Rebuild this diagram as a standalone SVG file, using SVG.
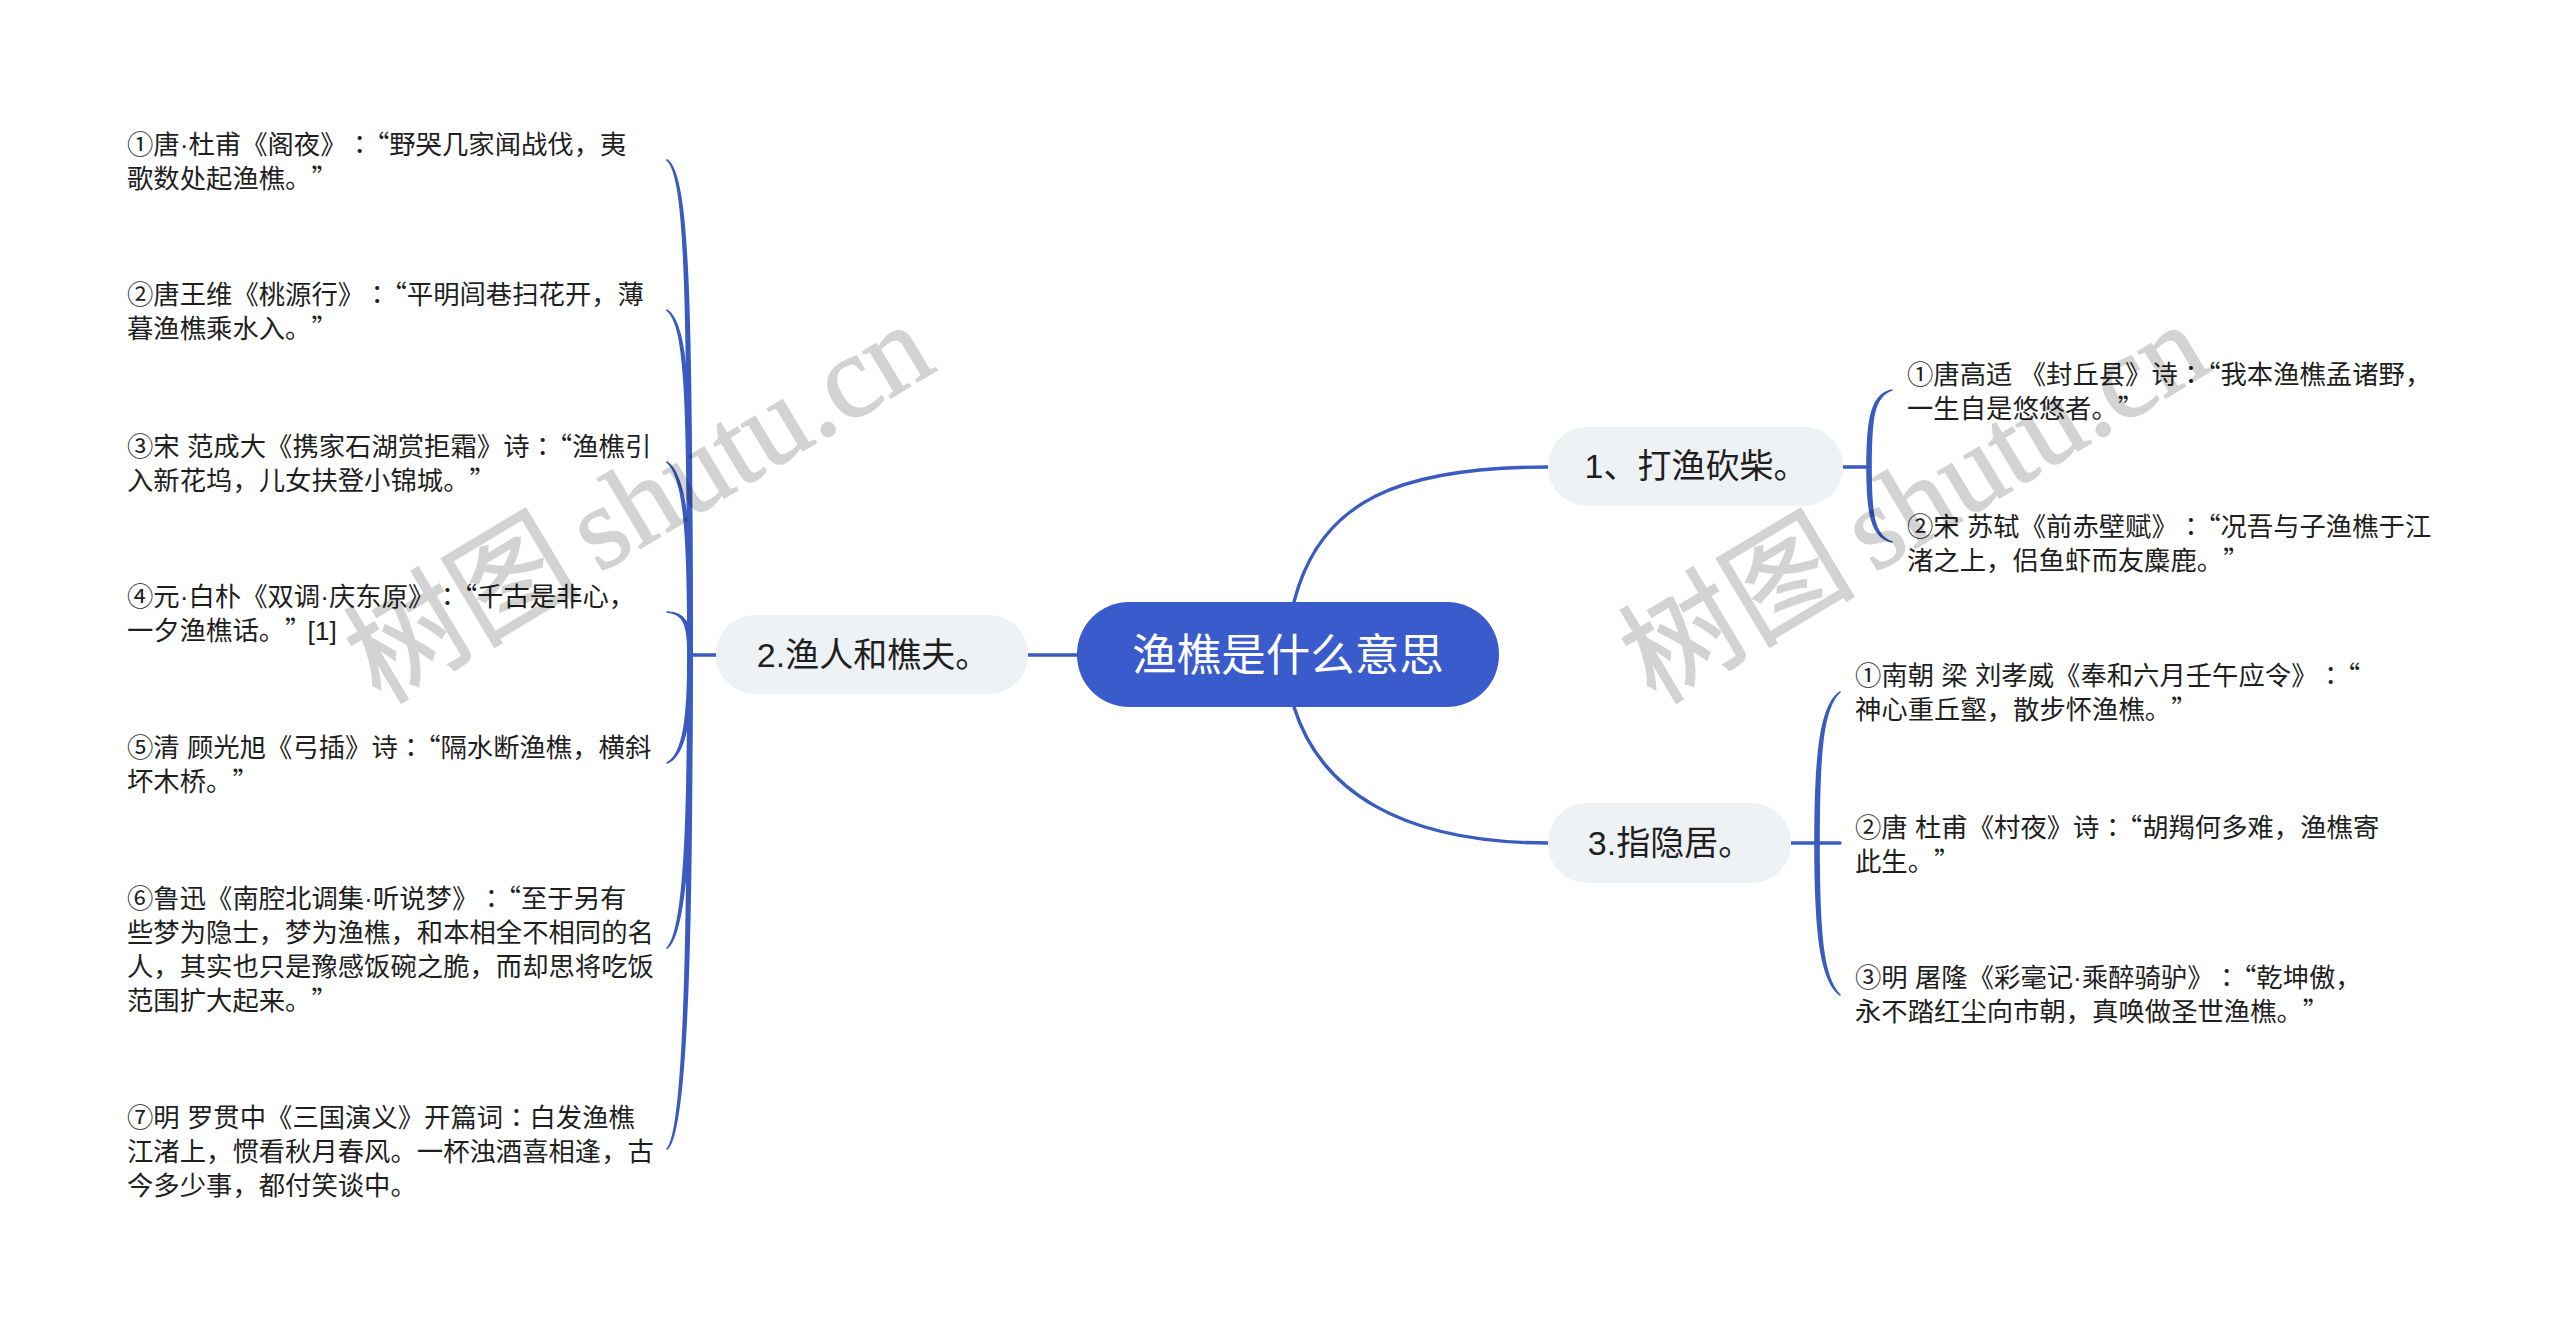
<svg xmlns="http://www.w3.org/2000/svg" width="2560" height="1327" viewBox="0 0 2560 1327">
<style>
text{font-family:"Liberation Sans","Noto Sans CJK SC",sans-serif;text-spacing-trim:space-all}
.leaf{font-size:26.35px;fill:#1f1f1f}
.q{font-family:"Noto Sans CJK SC",sans-serif}
.k{font-family:"Noto Sans CJK TC",sans-serif}
.sub{font-size:34px;fill:#1f1f1f;text-anchor:middle}
.root{font-size:44.5px;fill:#fff;text-anchor:middle}
.pill{fill:#eff2f5}
.c{fill:none;stroke:#3a5bbf;stroke-width:3.4;stroke-linecap:round}
.t{fill:#3a5bbf;stroke:#3a5bbf;stroke-width:1.6;stroke-linejoin:round}
.wm{font-family:"Liberation Serif","Noto Sans CJK SC",serif;font-size:118px;fill:#000;stroke:#000;stroke-width:1.5;opacity:.17;word-spacing:-10px}
</style>
<rect width="2560" height="1327" fill="#fff"/>
<g id="connectors">
<path class="c" d="M1027 655H1077"/>
<path class="c" d="M1294 602C1320 500 1400 467 1548 467"/>
<path class="c" d="M1294 707C1320 790 1400 843 1548 843"/>
<path class="c" d="M716 655H690"/>
<path class="t" d="M688 655C688 300 686 175 667 160C689 175 692 300 692 655Z"/>
<path class="t" d="M688 655C688 400 686 325 667 310C689 325 692 400 692 655Z"/>
<path class="t" d="M688 655C688 550 686 477 667 462C689 477 692 550 692 655Z"/>
<path class="t" d="M688 655C688 625 684 613 667 612C686 612 692 625 692 655Z"/>
<path class="t" d="M688 655C688 715 684 754 667 763C686 756 692 715 692 655Z"/>
<path class="t" d="M688 655C688 800 686 930 667 948C689 932 692 800 692 655Z"/>
<path class="t" d="M688 655C688 900 686 1130 667 1149C689 1132 692 900 692 655Z"/>
<path class="c" d="M1843 467H1869"/>
<path class="t" d="M1867 467C1867 420 1871 394 1892 390C1873 396 1871 420 1871 467Z"/>
<path class="t" d="M1867 467C1867 512 1871 538 1892 542C1873 536 1871 512 1871 467Z"/>
<path class="c" d="M1791 843H1840"/>
<path class="t" d="M1815 843C1815 750 1821 705 1840 692C1823 707 1819 750 1819 843Z"/>
<path class="t" d="M1815 843C1815 936 1821 981 1840 995C1823 979 1819 936 1819 843Z"/>
</g>
<g id="root"><rect x="1077" y="602" width="422" height="105" rx="52" fill="#3a5bcc"/><text class="root" x="1288" y="671">渔樵是什么意思</text></g>
<g id="n2"><rect class="pill" x="716" y="615" width="312" height="79" rx="39"/><text class="sub" x="873" y="667">2.渔人和樵夫。</text></g>
<g id="n1"><rect class="pill" x="1548" y="427" width="295" height="79" rx="39"/><text class="sub" x="1696" y="478">1、打渔砍柴。</text></g>
<g id="n3"><rect class="pill" x="1548" y="803" width="243" height="80" rx="39"/><text class="sub" x="1670" y="855">3.指隐居。</text></g>
<g id="l1"><text class="leaf" x="127" y="154">①唐·杜甫《阁夜》<tspan class="k">：</tspan><tspan class="q" dx="-10">“</tspan>野哭几家闻战伐，夷</text><text class="leaf" x="127" y="188">歌数处起渔樵。<tspan class="q">”</tspan></text></g>
<g id="l2"><text class="leaf" x="127" y="304">②唐王维《桃源行》<tspan class="k">：</tspan><tspan class="q" dx="-10">“</tspan>平明闾巷扫花开，薄</text><text class="leaf" x="127" y="338">暮渔樵乘水入。<tspan class="q">”</tspan></text></g>
<g id="l3"><text class="leaf" x="127" y="456">③宋 范成大《携家石湖赏拒霜》诗<tspan class="k">：</tspan><tspan class="q" dx="-10">“</tspan>渔樵引</text><text class="leaf" x="127" y="490">入新花坞，儿女扶登小锦城。<tspan class="q">”</tspan></text></g>
<g id="l4"><text class="leaf" x="127" y="606">④元·白朴《双调·庆东原》<tspan class="k">：</tspan><tspan class="q" dx="-10">“</tspan>千古是非心，</text><text class="leaf" x="127" y="640">一夕渔樵话。<tspan class="q">”</tspan><tspan dx="-4">[1]</tspan></text></g>
<g id="l5"><text class="leaf" x="127" y="757">⑤清 顾光旭《弓插》诗<tspan class="k">：</tspan><tspan class="q" dx="-10">“</tspan>隔水断渔樵，横斜</text><text class="leaf" x="127" y="791">坏木桥。<tspan class="q">”</tspan></text></g>
<g id="l6"><text class="leaf" x="127" y="908">⑥鲁迅《南腔北调集·听说梦》<tspan class="k">：</tspan><tspan class="q" dx="-10">“</tspan>至于另有</text><text class="leaf" x="127" y="942">些梦为隐士，梦为渔樵，和本相全不相同的名</text><text class="leaf" x="127" y="976">人，其实也只是豫感饭碗之脆，而却思将吃饭</text><text class="leaf" x="127" y="1010">范围扩大起来。<tspan class="q">”</tspan></text></g>
<g id="l7"><text class="leaf" x="127" y="1127">⑦明 罗贯中《三国演义》开篇词<tspan class="k">：</tspan>白发渔樵</text><text class="leaf" x="127" y="1161">江渚上，惯看秋月春风。一杯浊酒喜相逢，古</text><text class="leaf" x="127" y="1195">今多少事，都付笑谈中。</text></g>
<g id="r1"><text class="leaf" x="1907" y="384">①唐高适 《封丘县》诗<tspan class="k">：</tspan><tspan class="q" dx="-10">“</tspan>我本渔樵孟诸野，</text><text class="leaf" x="1907" y="418">一生自是悠悠者。<tspan class="q">”</tspan></text></g>
<g id="r2"><text class="leaf" x="1907" y="536">②宋 苏轼《前赤壁赋》<tspan class="k">：</tspan><tspan class="q" dx="-10">“</tspan>况吾与子渔樵于江</text><text class="leaf" x="1907" y="570">渚之上，侣鱼虾而友麋鹿。<tspan class="q">”</tspan></text></g>
<g id="r3"><text class="leaf" x="1855" y="685">①南朝 梁 刘孝威《奉和六月壬午应令》<tspan class="k">：</tspan><tspan class="q" dx="-10">“</tspan></text><text class="leaf" x="1855" y="719">神心重丘壑，散步怀渔樵。<tspan class="q">”</tspan></text></g>
<g id="r4"><text class="leaf" x="1855" y="837">②唐 杜甫《村夜》诗<tspan class="k">：</tspan><tspan class="q" dx="-10">“</tspan>胡羯何多难，渔樵寄</text><text class="leaf" x="1855" y="871">此生。<tspan class="q">”</tspan></text></g>
<g id="r5"><text class="leaf" x="1855" y="987">③明 屠隆《彩毫记·乘醉骑驴》<tspan class="k">：</tspan><tspan class="q" dx="-10">“</tspan>乾坤傲，</text><text class="leaf" x="1855" y="1021">永不踏红尘向市朝，真唤做圣世渔樵。<tspan class="q">”</tspan></text></g>
<g id="watermarks">
<text class="wm" transform="translate(380 705) rotate(-31)">树图 shutu.cn</text>
<text class="wm" transform="translate(1655 705) rotate(-31)">树图 shutu.cn</text>
</g>
</svg>
